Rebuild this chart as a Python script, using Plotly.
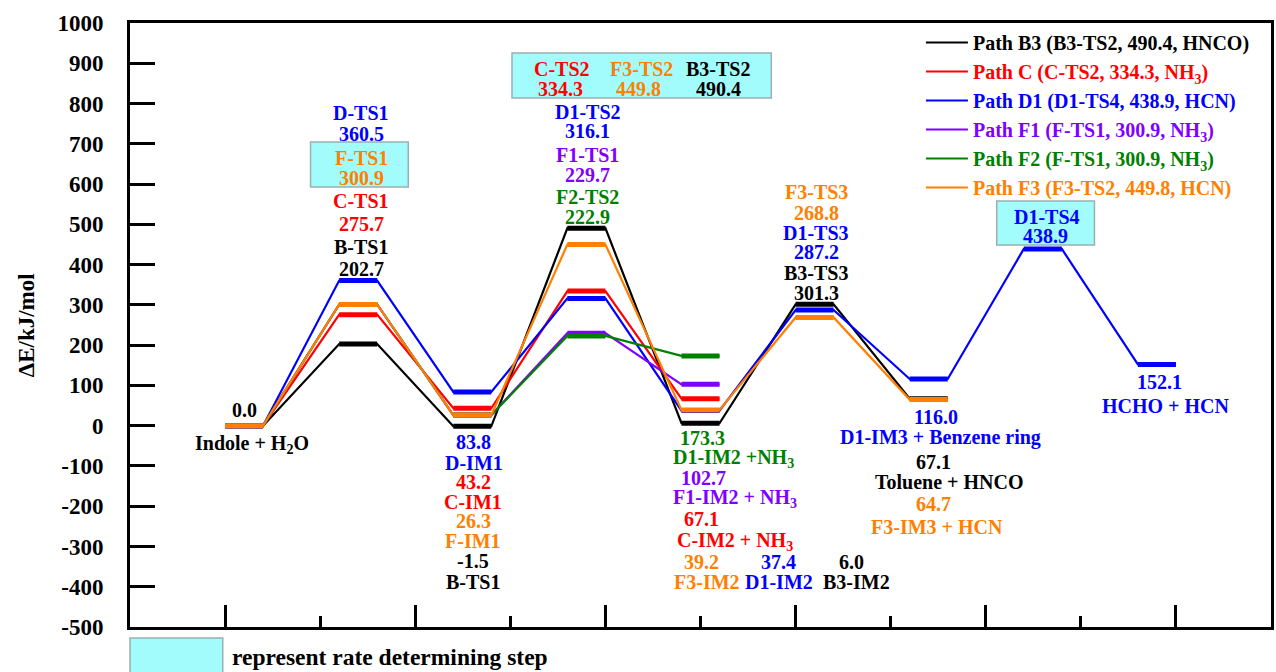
import plotly.graph_objects as go

# ---------------- data ----------------
stage_labels = ["Indole + H2O", "TS1", "IM1", "TS2", "IM2", "TS3", "IM3", "TS4", "P"]
B3 = [0.0, 202.7, -1.5, 490.4, 6.0, 301.3, 67.1, None, None]
C = [0.0, 275.7, 43.2, 334.3, 67.1, None, None, None, None]
D1 = [0.0, 360.5, 83.8, 316.1, 37.4, 287.2, 116.0, 438.9, 152.1]
F1 = [0.0, 300.9, 26.3, 229.7, 102.7, None, None, None, None]
F2 = [0.0, 300.9, 26.3, 222.9, 173.3, None, None, None, None]
F3 = [0.0, 300.9, 26.3, 449.8, 39.2, 268.8, 64.7, None, None]

path_names = [
    "Path B3 (B3-TS2, 490.4, HNCO)",
    "Path C (C-TS2, 334.3, NH<sub>3</sub>)",
    "Path D1 (D1-TS4, 438.9, HCN)",
    "Path F1 (F-TS1, 300.9, NH<sub>3</sub>)",
    "Path F2 (F-TS1, 300.9, NH<sub>3</sub>)",
    "Path F3 (F3-TS2, 449.8, HCN)",
]
y_ticks = list(range(-500, 1001, 100))
y_ticktext = [str(v) for v in y_ticks]

BLACK, RED, BLUE = "#000000", "#FF0000", "#0000FF"
PURPLE, GREEN, ORANGE = "#8000FF", "#008000", "#FF8000"
path_colors = [BLACK, RED, BLUE, PURPLE, GREEN, ORANGE]
paths = [B3, C, D1, F1, F2, F3]

FONT = "Times New Roman, Liberation Serif, serif"
STEP = 1.2      # stage spacing in x units
HALF = 0.2      # half plateau width

def stage_x(i):
    return STEP * (i + 1)

fig = go.Figure()
for vals, name, col in zip(paths, path_names, path_colors):
    xs, ys, px_, py_ = [], [], [], []
    for i, v in enumerate(vals):
        if v is None:
            continue
        xs += [stage_x(i) - HALF, stage_x(i) + HALF]
        ys += [v, v]
        px_ += [stage_x(i) - HALF, stage_x(i) + HALF, None]
        py_ += [v, v, None]
    fig.add_trace(go.Scatter(x=xs, y=ys, mode="lines", name=f"<span style='color:{col}'>{name}</span>",
                             line=dict(color=col, width=2.2), hoverinfo="skip"))
    fig.add_trace(go.Scatter(x=px_, y=py_, mode="lines", showlegend=False,
                             line=dict(color=col, width=5), hoverinfo="skip"))

# ---------------- pixel helpers for label placement ----------------
PL, PR, PT, PB = 130, 1274, 23, 627
def dx(px):
    return (px - PL) / (PR - PL) * 12
def dy(py):
    return 1000 - (py - PT) / (PB - PT) * 1500

def f(v):
    return f"{v:.1f}"

labels = [
    (245, 410, f(B3[0]), BLACK),
    (252, 444, "Indole + H<sub>2</sub>O", BLACK),
    # TS1
    (362, 113, "D-TS1", BLUE), (362, 134, f(D1[1]), BLUE),
    (362, 158, "F-TS1", ORANGE), (362, 178, f(F3[1]), ORANGE),
    (362, 201, "C-TS1", RED), (362, 224, f(C[1]), RED),
    (362, 247, "B-TS1", BLACK), (362, 269, f(B3[1]), BLACK),
    # IM1
    (474, 442, f(D1[2]), BLUE), (475, 463, "D-IM1", BLUE),
    (474, 482, f(C[2]), RED), (474, 502, "C-IM1", RED),
    (474, 521, f(F3[2]), ORANGE), (474, 541, "F-IM1", ORANGE),
    (474, 561, f(B3[2]), BLACK), (474, 582, "B-TS1", BLACK),
    # TS2
    (563, 69, "C-TS2", RED), (562, 89, f(C[3]), RED),
    (643, 69, "F3-TS2", ORANGE), (640, 89, f(F3[3]), ORANGE),
    (720, 69, "B3-TS2", BLACK), (720, 89, f(B3[3]), BLACK),
    (589, 112, "D1-TS2", BLUE), (589, 131, f(D1[3]), BLUE),
    (589, 155, "F1-TS1", PURPLE), (589, 175, f(F1[3]), PURPLE),
    (589, 197, "F2-TS2", GREEN), (589, 217, f(F2[3]), GREEN),
    # IM2
    (704, 438, f(F2[4]), GREEN), (735, 458, "D1-IM2 +NH<sub>3</sub>", GREEN),
    (705, 478, f(F1[4]), PURPLE), (737, 498, "F1-IM2 + NH<sub>3</sub>", PURPLE),
    (703, 519, f(C[4]), RED), (737, 541, "C-IM2 + NH<sub>3</sub>", RED),
    (703, 562, f(F3[4]), ORANGE), (709, 582, "F3-IM2", ORANGE),
    (780, 562, f(D1[4]), BLUE), (781, 582, "D1-IM2", BLUE),
    (853, 562, f(B3[4]), BLACK), (858, 582, "B3-IM2", BLACK),
    # TS3
    (818, 192, "F3-TS3", ORANGE), (818, 213, f(F3[5]), ORANGE),
    (818, 233, "D1-TS3", BLUE), (818, 252, f(D1[5]), BLUE),
    (818, 273, "B3-TS3", BLACK), (818, 293, f(B3[5]), BLACK),
    # IM3
    (938, 417, f(D1[6]), BLUE), (943, 437, "D1-IM3 + Benzene ring", BLUE),
    (936, 462, f(B3[6]), BLACK), (951, 482, "Toluene + HNCO", BLACK),
    (936, 504, f(F3[6]), ORANGE), (939, 527, "F3-IM3 + HCN", ORANGE),
    # TS4
    (1049, 217, "D1-TS4", BLUE), (1048, 236, f(D1[7]), BLUE),
    # products
    (1162, 382, f(D1[8]), BLUE), (1169, 406, "HCHO + HCN", BLUE),
]

annotations = []
for px, py, txt, col in labels:
    annotations.append(dict(x=dx(px), y=dy(py), xref="x", yref="y", text=txt, showarrow=False,
                            xanchor="center", yanchor="middle",
                            font=dict(family=FONT, size=20, color=col, weight="bold")))

# y-axis title
annotations.append(dict(x=(26 - PL) / (PR - PL), y=(PB - 325) / (PB - PT), xref="paper", yref="paper",
                        text="ΔE/kJ/mol", showarrow=False, textangle=-90,
                        xanchor="center", yanchor="middle",
                        font=dict(family=FONT, size=23, color=BLACK, weight="bold")))

# bottom key text
annotations.append(dict(x=(230 - PL) / (PR - PL), y=(PB - 657) / (PB - PT), xref="paper", yref="paper",
                        text="represent rate determining step", showarrow=False,
                        xanchor="left", yanchor="middle",
                        font=dict(family=FONT, size=23.5, color=BLACK, weight="bold")))

CYAN = "#A2FCFC"
shapes = []
def box(x0, x1, y0, y1, xref="x", yref="y"):
    shapes.append(dict(type="rect", x0=x0, x1=x1, y0=y0, y1=y1, xref=xref, yref=yref,
                       fillcolor=CYAN, line=dict(color="#9AB0B0", width=1.5), layer="below"))

box(dx(311), dx(409), dy(187), dy(142))
box(dx(513), dx(773), dy(98), dy(53))
box(dx(999), dx(1097), dy(245), dy(201))
box(0, (223 - PL) / (PR - PL), (PB - 700) / (PB - PT), (PB - 638) / (PB - PT), "paper", "paper")

fig.update_layout(
    width=1276, height=672,
    margin=dict(l=PL, r=1276 - PR, t=PT, b=672 - PB),
    plot_bgcolor="white", paper_bgcolor="white",
    showlegend=True,
    legend=dict(x=(923 - PL) / (PR - PL), y=1.0, xanchor="left", yanchor="top",
                bgcolor="rgba(0,0,0,0)", borderwidth=0, tracegroupgap=0, itemwidth=42,
                font=dict(family=FONT, size=20, color=BLACK, weight="bold")),
    annotations=annotations,
    shapes=shapes,
    xaxis=dict(range=[0, 12], showgrid=False, zeroline=False, showline=True, mirror=True,
               linecolor=BLACK, linewidth=3, ticks="inside", tickmode="array",
               tickvals=[1, 3, 5, 7, 9, 11], ticklen=22, tickwidth=3, tickcolor=BLACK,
               showticklabels=False,
               minor=dict(tickmode="array", tickvals=[2, 4, 6, 8, 10], ticks="inside",
                          ticklen=11, tickwidth=3, tickcolor=BLACK)),
    yaxis=dict(range=[-500, 1000], showgrid=False, zeroline=False, showline=True, mirror=True,
               linecolor=BLACK, linewidth=3, ticks="inside", tickmode="array", tickvals=y_ticks,
               ticktext=y_ticktext,
               ticklen=25, tickwidth=3, tickcolor=BLACK, ticklabelstandoff=19,
               tickfont=dict(family=FONT, size=23, color=BLACK, weight="bold")),
)

fig.write_html("out.html", config={"displayModeBar": False},
               post_script="document.body.style.margin='0';document.body.style.overflow='hidden';")
